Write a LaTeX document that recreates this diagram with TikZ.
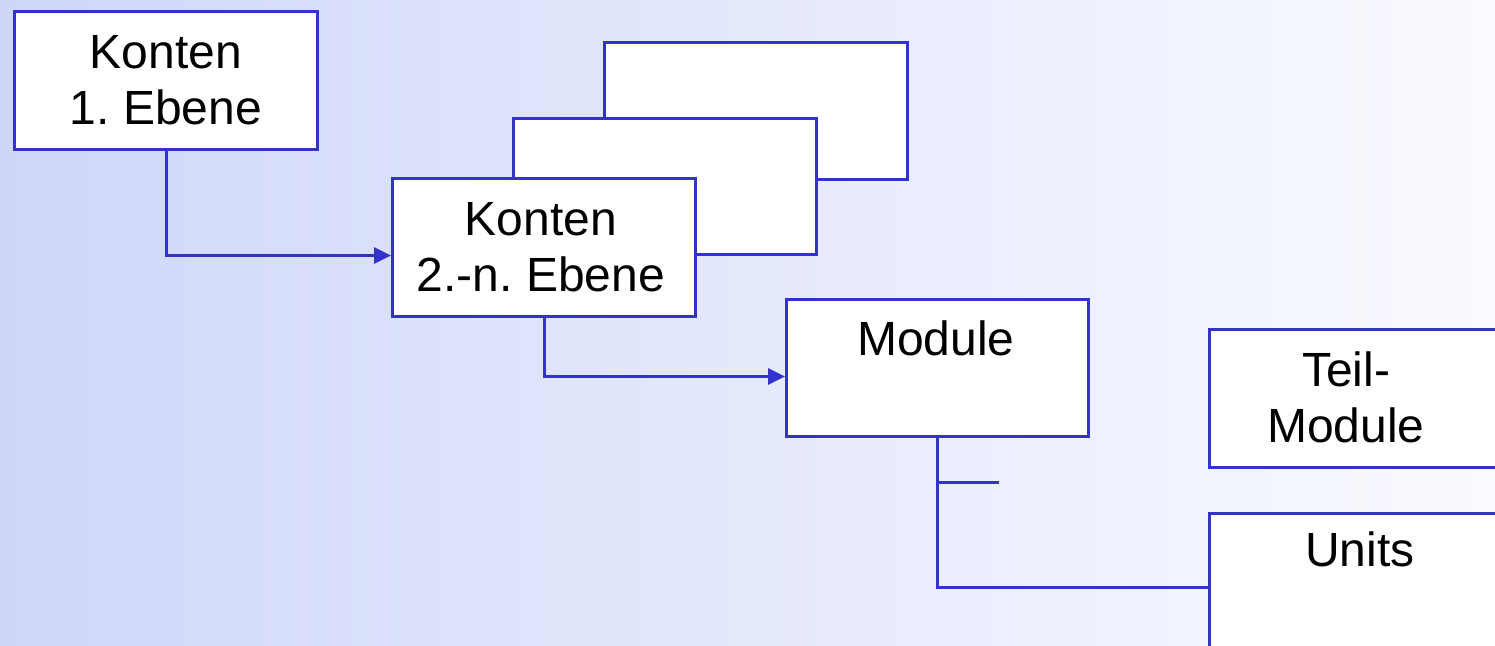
\documentclass[tikz,border=0pt]{standalone}
\usepackage{fontspec}
\setmainfont{Liberation Sans}
\usetikzlibrary{arrows.meta,calc}
\definecolor{edge}{RGB}{51,51,204}
\definecolor{bgleft}{RGB}{207,215,249}
\definecolor{bgright}{RGB}{250,251,255}
\frenchspacing
\begin{document}
\begin{tikzpicture}[x=0.5pt,y=-0.5pt,
  box/.style={draw=edge,line width=1.5pt,fill=white,anchor=north west,
    minimum width=151.5pt,minimum height=69pt,inner sep=0pt},
  lbl/.style={font=\fontsize{24pt}{28pt}\selectfont,align=center,inner sep=0pt},
  link/.style={draw=edge,line width=1.5pt},
  arr/.style={link,-{Triangle[length=8.5pt,width=8pt]}}]
\useasboundingbox (0,0) rectangle (1495,646);
\shade[left color=bgleft,right color=bgright] (0,0) rectangle (1495,646);
\clip (0,0) rectangle (1495,646);

% top-level accounts
\node[box] (top) at (13,10) {};
\node[lbl] (toptext) at (top.center) {Konten\\1. Ebene};

% stacked lower-level accounts (back to front)
\node[box,minimum height=68.5pt] (back) at (603,41) {};
\node[box,minimum height=68pt] (mid) at (512,117) {};
\node[box] (front) at (391,177) {};
\node[lbl] (fronttext) at ([xshift=-1.5pt]front.center) {Konten\\2.-n. Ebene};

% modules
\node[box,minimum width=151pt,minimum height=68.5pt] (mod) at (785,298) {};
\node[lbl,anchor=base] (modtext) at (936,356) {Module};

% sub-modules and units
\node[box] (teil) at (1208,328) {};
\node[lbl] (teiltext) at (1346,397) {Teil-\\Module};
\node[box] (units) at (1208,512) {};
\node[lbl,anchor=base] (unitstext) at (1360,567) {Units};

% connectors
\draw[arr] (top.south) |- ([yshift=-4pt]front.west);
\draw[arr] (front.south) |- ([yshift=-4.25pt]mod.west);
\draw[link] (mod.south) |- ([yshift=-2.5pt]units.west);
\coordinate (tee) at ($(mod.south)+(0,45)$);
\coordinate (teeend) at ($(tee)+(61,0)$);
\draw[link] (tee) -- (teeend);
\end{tikzpicture}
\end{document}
